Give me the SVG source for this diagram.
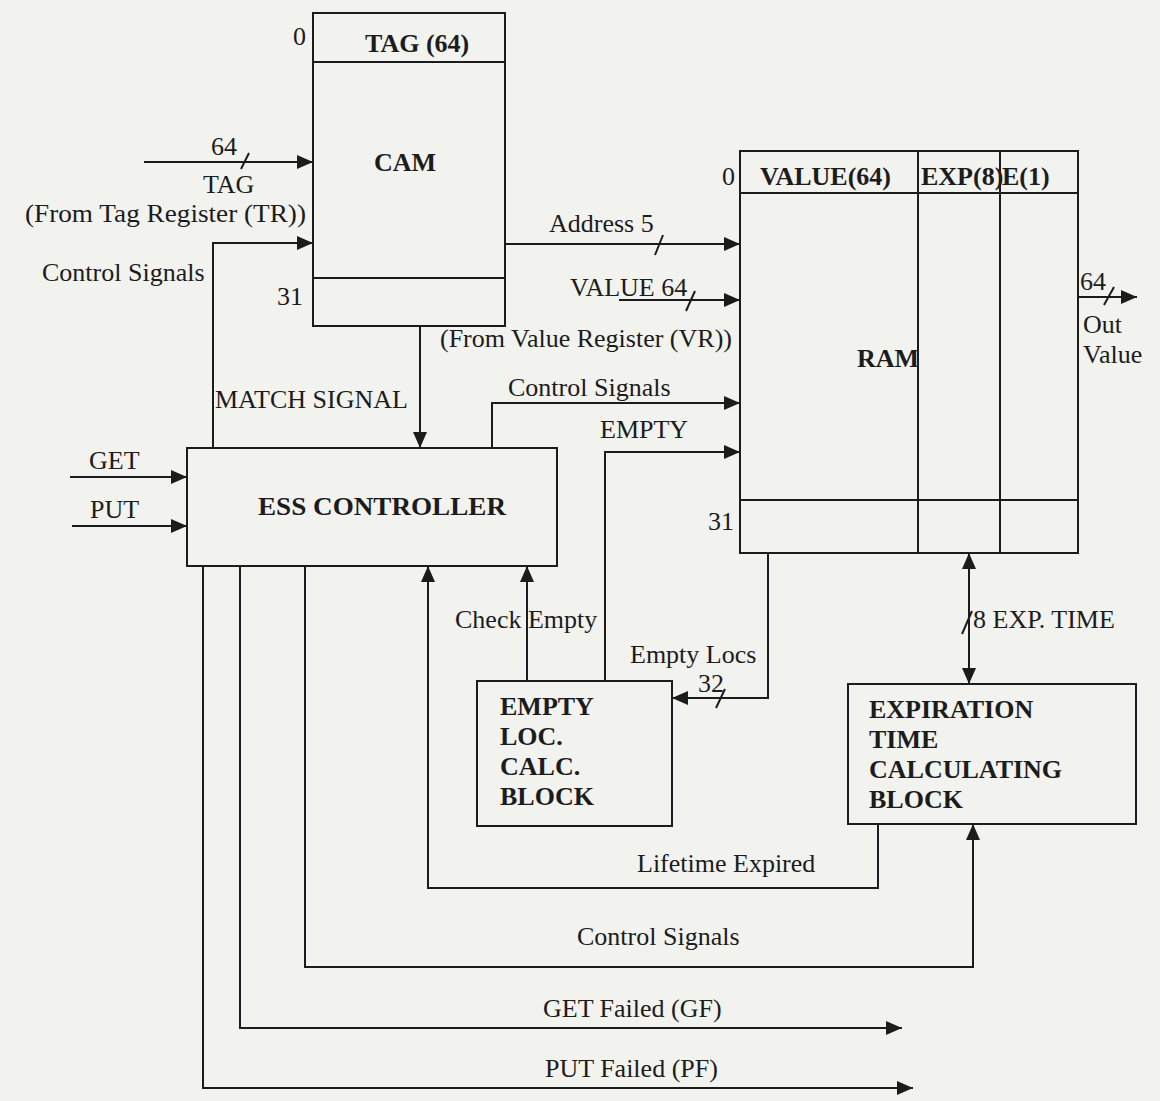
<svg xmlns="http://www.w3.org/2000/svg" width="1160" height="1101" viewBox="0 0 1160 1101">
<defs>
<marker id="ah" markerWidth="16" markerHeight="14" refX="16" refY="7" orient="auto-start-reverse" markerUnits="userSpaceOnUse"><path d="M0,0 L16,7 L0,14 z" fill="#1c1c1c"/></marker>
</defs>
<style>
.t{font-family:"Liberation Serif","Times New Roman",serif;font-size:26px;fill:#1c1c1c}
.b{font-weight:bold}
.box{fill:none;stroke:#1c1c1c;stroke-width:2}
.w{fill:none;stroke:#1c1c1c;stroke-width:2}
.a{fill:none;stroke:#1c1c1c;stroke-width:2;marker-end:url(#ah)}
</style>
<rect x="0" y="0" width="1160" height="1101" fill="#f2f2ef"/>

<g id="cam">
<rect class="box" x="313" y="13" width="192" height="313"/>
<line class="w" x1="313" y1="62" x2="505" y2="62"/>
<line class="w" x1="313" y1="278" x2="505" y2="278"/>
<text class="t" x="293" y="45">0</text>
<text class="t" x="277" y="305">31</text>
<text class="t b" x="365" y="52">TAG (64)</text>
<text class="t b" x="374" y="171">CAM</text>
</g>

<g id="ram">
<rect class="box" x="740" y="151" width="338" height="402"/>
<line class="w" x1="740" y1="193" x2="1078" y2="193"/>
<line class="w" x1="918" y1="151" x2="918" y2="553"/>
<line class="w" x1="1000" y1="151" x2="1000" y2="553"/>
<line class="w" x1="740" y1="500" x2="1078" y2="500"/>
<text class="t" x="722" y="185">0</text>
<text class="t" x="708" y="530">31</text>
<text class="t b" x="760" y="185">VALUE(64)</text>
<text class="t b" x="921" y="185">EXP(8)</text>
<text class="t b" x="1002" y="185">E(1)</text>
<text class="t b" x="857" y="367">RAM</text>
</g>

<g id="ess">
<rect class="box" x="187" y="448" width="370" height="118"/>
<text class="t b" x="258" y="515" textLength="248" lengthAdjust="spacingAndGlyphs">ESS CONTROLLER</text>
</g>

<g id="emptyloc">
<rect class="box" x="477" y="681" width="195" height="145"/>
<text class="t b" x="500" y="715">EMPTY</text>
<text class="t b" x="500" y="745">LOC.</text>
<text class="t b" x="500" y="775">CALC.</text>
<text class="t b" x="500" y="805">BLOCK</text>
</g>

<g id="exptime">
<rect class="box" x="848" y="684" width="288" height="140"/>
<text class="t b" x="869" y="718">EXPIRATION</text>
<text class="t b" x="869" y="748">TIME</text>
<text class="t b" x="869" y="778">CALCULATING</text>
<text class="t b" x="869" y="808">BLOCK</text>
</g>

<g id="connectors">
<line class="a" x1="144" y1="162" x2="313" y2="162"/>
<line class="w" x1="241" y1="169" x2="249" y2="153"/>
<polyline class="a" points="213,448 213,243 313,243"/>
<line class="a" x1="505" y1="244" x2="740" y2="244"/>
<line class="w" x1="655" y1="255" x2="663" y2="235"/>
<line class="a" x1="619" y1="300" x2="740" y2="300"/>
<line class="w" x1="686" y1="311" x2="695" y2="291"/>
<polyline class="a" points="492,448 492,403 740,403"/>
<polyline class="a" points="605,681 605,452 740,452"/>
<line class="a" x1="420" y1="326" x2="420" y2="448"/>
<line class="a" x1="70" y1="477" x2="187" y2="477"/>
<line class="a" x1="72" y1="526" x2="187" y2="526"/>
<line class="a" x1="1078" y1="297" x2="1137" y2="297"/>
<line class="w" x1="1104" y1="305" x2="1114" y2="287"/>
<polyline class="a" points="203,566 203,1088 913,1088"/>
<polyline class="a" points="240,566 240,1028 902,1028"/>
<polyline class="a" points="305,566 305,967 973,967 973,824"/>
<polyline class="a" points="878,824 878,888 428,888 428,566"/>
<line class="a" x1="527" y1="681" x2="527" y2="566"/>
<polyline class="a" points="768,553 768,698 672,698"/>
<line class="w" x1="716" y1="708" x2="725" y2="689"/>
<line class="a" x1="969" y1="684" x2="969" y2="553" style="marker-start:url(#ah)"/>
<line class="w" x1="962" y1="634" x2="972" y2="611"/>
</g>

<g id="labels">
<text class="t" x="211" y="155">64</text>
<text class="t" x="203" y="193">TAG</text>
<text class="t" x="25" y="222" textLength="281" lengthAdjust="spacingAndGlyphs">(From Tag Register (TR))</text>
<text class="t" x="42" y="281">Control Signals</text>
<text class="t" x="549" y="232">Address 5</text>
<text class="t" x="570" y="296">VALUE 64</text>
<text class="t" x="440" y="347">(From Value Register (VR))</text>
<text class="t" x="508" y="396">Control Signals</text>
<text class="t" x="600" y="438">EMPTY</text>
<text class="t" x="215" y="408">MATCH SIGNAL</text>
<text class="t" x="89" y="469">GET</text>
<text class="t" x="90" y="518">PUT</text>
<text class="t" x="1080" y="290">64</text>
<text class="t" x="1083" y="333">Out</text>
<text class="t" x="1083" y="363">Value</text>
<text class="t" x="455" y="628">Check Empty</text>
<text class="t" x="630" y="663">Empty Locs</text>
<text class="t" x="698" y="692">32</text>
<text class="t" x="973" y="628">8 EXP. TIME</text>
<text class="t" x="637" y="872">Lifetime Expired</text>
<text class="t" x="577" y="945">Control Signals</text>
<text class="t" x="543" y="1017">GET Failed (GF)</text>
<text class="t" x="545" y="1077">PUT Failed (PF)</text>
</g>
</svg>
